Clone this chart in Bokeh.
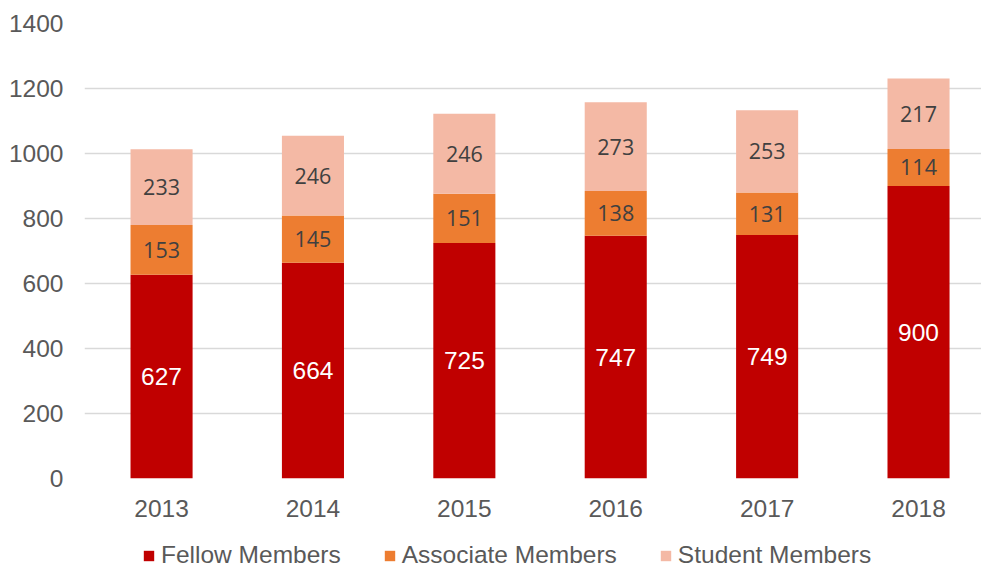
from bokeh.plotting import figure
from bokeh.layouts import column
from bokeh.models import ColumnDataSource, FixedTicker, Legend, LegendItem, Range1d
from bokeh.core.properties import value
from bokeh.embed import file_html
from bokeh.resources import INLINE

years = ["2013", "2014", "2015", "2016", "2017", "2018"]
fellow = [627, 664, 725, 747, 749, 900]
associate = [153, 145, 151, 138, 131, 114]
student = [233, 246, 246, 273, 253, 217]
series_names = ["Fellow Members", "Associate Members", "Student Members"]
colors = ["#C00000", "#ED7D31", "#F4B9A5"]
y_ticks = [0, 200, 400, 600, 800, 1000, 1200, 1400]

xs = list(range(len(years)))
src = ColumnDataSource(dict(x=xs, fellow=fellow, associate=associate, student=student))

p = figure(width=981, height=530, output_backend="svg", toolbar_location=None,
           x_range=Range1d(-0.509, 5.416), y_range=Range1d(0, 1400),
           min_border_left=84, min_border_right=0, min_border_top=23, min_border_bottom=52)
p.outline_line_color = None
p.background_fill_color = "white"
p.border_fill_color = "white"

renderers = p.vbar_stack(["fellow", "associate", "student"], x="x", width=0.41, source=src,
                         color=colors, line_color=None)

# labels
f_mid = [f / 2 for f in fellow]
a_mid = [f + a / 2 for f, a in zip(fellow, associate)]
s_mid = [f + a + s / 2 for f, a, s in zip(fellow, associate, student)]
p.text(x=xs, y=f_mid, text=[str(v) for v in fellow], text_align="center", text_baseline="middle",
       text_color="white", text_font=value("Liberation Sans"), text_font_size="24.5px")
p.text(x=xs, y=a_mid, text=[str(v) for v in associate], text_align="center", text_baseline="middle",
       text_color="#404040", text_font=value("Open Sans"), text_font_size="21.5px")
p.text(x=xs, y=s_mid, text=[str(v) for v in student], text_align="center", text_baseline="middle",
       text_color="#404040", text_font=value("Open Sans"), text_font_size="21.5px")

# axes
p.xaxis.ticker = FixedTicker(ticks=xs)
p.xaxis.major_label_overrides = {i: y for i, y in enumerate(years)}
p.yaxis.ticker = FixedTicker(ticks=y_ticks)
for ax in (p.xaxis, p.yaxis):
    ax.axis_line_color = None
    ax.major_tick_line_color = None
    ax.minor_tick_line_color = None
    ax.major_label_text_font = "Liberation Sans"
    ax.major_label_text_font_size = "24.5px"
    ax.major_label_text_color = "#595959"
p.yaxis.major_label_standoff = 15
p.xaxis.major_label_standoff = 15
p.xgrid.grid_line_color = None
p.ygrid.grid_line_color = "#D9D9D9"
p.ygrid.grid_line_width = 1.5

# legend strip (bars out of view; only the legend is visible)
lg = figure(width=981, height=39, output_backend="svg", toolbar_location=None,
            x_range=Range1d(100, 101), y_range=Range1d(5000, 5001),
            x_axis_location=None, y_axis_location=None,
            min_border_left=84, min_border_right=0, min_border_top=0, min_border_bottom=0)
lg.outline_line_color = None
lg.grid.grid_line_color = None
lg_r = lg.vbar_stack(["fellow", "associate", "student"], x="x", width=0.41, source=src,
                     color=colors, line_color=None)
legend = Legend(items=[LegendItem(label=n, renderers=[r]) for n, r in zip(series_names, lg_r)],
                orientation="horizontal", location=(58, 0),
                glyph_width=13, glyph_height=13, label_standoff=6, spacing=42,
                label_height=13, label_text_line_height=0.95,
                label_text_font="Liberation Sans", label_text_font_size="24.5px",
                label_text_color="#595959", border_line_color=None,
                background_fill_alpha=0, padding=0, margin=0)
lg.add_layout(legend, "center")

open("out.html", "w").write(file_html(column(p, lg, spacing=0), INLINE))
